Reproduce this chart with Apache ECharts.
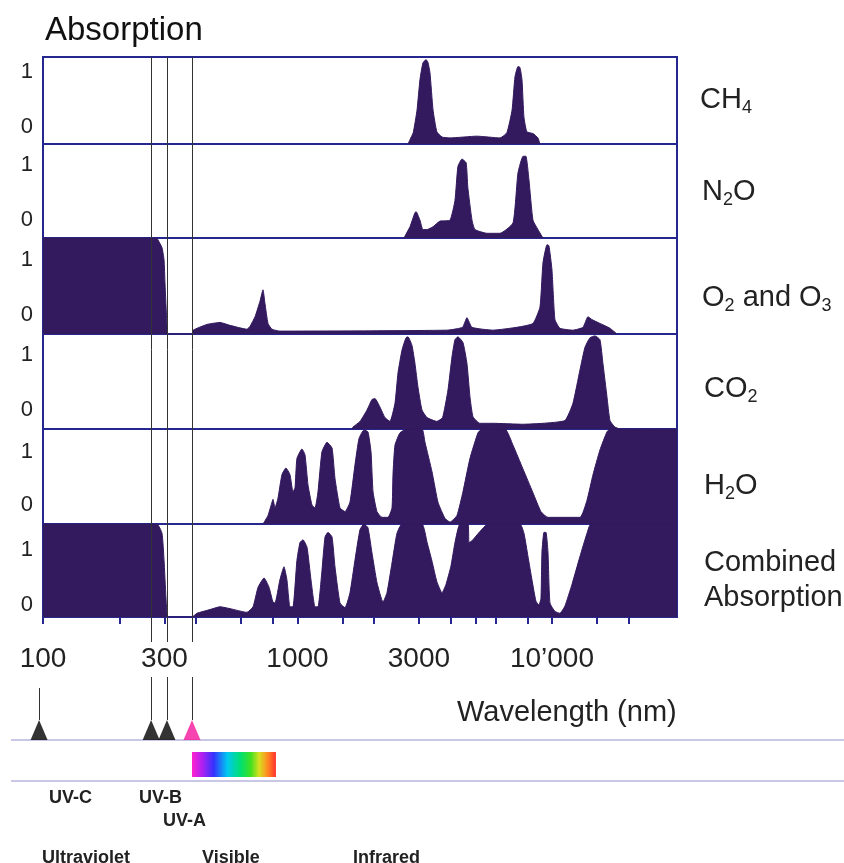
<!DOCTYPE html>
<html><head><meta charset="utf-8">
<script src="https://cdn.jsdelivr.net/npm/echarts@6/dist/echarts.min.js"></script>
<style>html,body{margin:0;padding:0;background:#fff}#c{width:844px;height:863px}</style>
</head><body><div id="c"></div>
<script>
const FONT = '"Liberation Sans", Arial, Helvetica, sans-serif';
const FILL = '#33195e';
const BORDER = '#26268f';

// ---- data: [wavelength nm, absorption (fraction of panel height)] ----
const ch4 = [[2720,0],[2767,0.05],[2850,0.13],[2950,0.39],[3029,0.74],[3110,0.93],[3200,0.97],[3255,0.94],[3316,0.82],[3410,0.39],[3530,0.14],[3700,0.08],[3974,0.07],[5070,0.09],[6247,0.07],[6650,0.13],[6970,0.39],[7155,0.77],[7350,0.89],[7486,0.88],[7625,0.74],[7760,0.31],[7970,0.14],[8420,0.12],[8810,0.07],[8970,0]];
const n2o = [[2620,0],[2767,0.12],[2895,0.27],[2925,0.28],[3029,0.19],[3110,0.09],[3230,0.09],[3410,0.12],[3630,0.18],[3974,0.19],[4158,0.40],[4270,0.76],[4430,0.84],[4600,0.80],[4670,0.54],[4850,0.19],[4982,0.09],[5560,0.05],[6247,0.05],[7030,0.16],[7350,0.69],[7700,0.87],[7900,0.87],[8120,0.62],[8420,0.19],[8810,0.09],[9220,0]];
const o2o3 = [[100,1],[280,1],[283,0.98],[293.5,0.9],[299,0.77],[301.6,0.53],[304.3,0.3],[307,0.09],[310,0],[385,0],[389,0.04],[441,0.10],[496,0.12],[543,0.09],[633,0.05],[651,0.08],[681,0.18],[712,0.34],[732,0.46],[745,0.32],[766,0.11],[794,0.05],[853,0.03],[3868,0.04],[4450,0.07],[4634,0.17],[4850,0.07],[5864,0.04],[7287,0.07],[8420,0.11],[8970,0.28],[9218,0.74],[9560,0.93],[9730,0.92],[10000,0.67],[10275,0.15],[10750,0.06],[12090,0.04],[13240,0.07],[13850,0.18],[14360,0.15],[15440,0.11],[16900,0.06],[18010,0]];
const co2 = [[1640,0],[1652,0.02],[1761,0.08],[1876,0.2],[1962,0.31],[2016,0.32],[2110,0.23],[2207,0.12],[2309,0.08],[2416,0.27],[2483,0.59],[2574,0.83],[2669,0.96],[2718,0.97],[2818,0.88],[2895,0.69],[2975,0.44],[3085,0.2],[3232,0.12],[3530,0.08],[3716,0.12],[3903,0.41],[4047,0.76],[4158,0.94],[4272,0.97],[4470,0.91],[4634,0.69],[4762,0.34],[4894,0.13],[5213,0.06],[5864,0.06],[7692,0.05],[9218,0.06],[11250,0.09],[12090,0.27],[12880,0.62],[13480,0.86],[14100,0.96],[14760,0.98],[15440,0.94],[15860,0.69],[16450,0.34],[16900,0.09],[17680,0.02],[18500,0]];
const h2o = [[732,0],[766,0.09],[794,0.23],[801,0.26],[816,0.17],[838,0.27],[869,0.52],[901,0.59],[934,0.52],[960,0.34],[978,0.38],[995,0.69],[1041,0.79],[1070,0.73],[1100,0.41],[1140,0.2],[1172,0.17],[1204,0.34],[1248,0.76],[1306,0.86],[1367,0.8],[1404,0.48],[1469,0.17],[1537,0.13],[1608,0.23],[1682,0.62],[1745,0.9],[1825,0.99],[1892,0.97],[1945,0.76],[1981,0.34],[2053,0.13],[2148,0.07],[2268,0.07],[2352,0.17],[2373,0.52],[2416,0.83],[2528,0.96],[2693,1],[3085,1],[3170,0.86],[3378,0.55],[3565,0.23],[3798,0.06],[3974,0.02],[4234,0.09],[4470,0.34],[4762,0.69],[5120,0.96],[5309,1],[6536,1],[7029,0.83],[7692,0.58],[8420,0.33],[9053,0.13],[9645,0.07],[12880,0.07],[13730,0.25],[14500,0.52],[15440,0.78],[16450,0.97],[16900,1],[31000,1]];
const combined = [[100,1],[280,1],[293.5,0.9],[299,0.61],[304,0.22],[307,0.04],[310,0],[385,0],[403,0.04],[453,0.08],[496,0.11],[543,0.09],[633,0.05],[669,0.11],[700,0.32],[739,0.42],[773,0.32],[801,0.16],[816,0.15],[853,0.4],[885,0.54],[909,0.4],[934,0.11],[960,0.11],[995,0.61],[1023,0.8],[1051,0.83],[1090,0.75],[1130,0.4],[1172,0.11],[1204,0.11],[1248,0.5],[1283,0.86],[1318,0.91],[1367,0.86],[1404,0.54],[1469,0.15],[1537,0.1],[1608,0.26],[1682,0.61],[1761,0.94],[1825,1],[1892,0.96],[1962,0.69],[2053,0.37],[2168,0.16],[2247,0.26],[2352,0.58],[2460,0.9],[2574,1],[3085,1],[3232,0.8],[3378,0.6],[3530,0.38],[3697,0.26],[3833,0.35],[4011,0.55],[4158,0.8],[4350,1],[4677,1],[4720,0.8],[4850,0.82],[5213,0.92],[5605,1],[7486,1],[7762,0.9],[8050,0.65],[8345,0.4],[8650,0.17],[8890,0.13],[9053,0.2],[9135,0.7],[9303,0.91],[9472,0.91],[9645,0.7],[9820,0.15],[10275,0.06],[10750,0.04],[11250,0.12],[11985,0.35],[12880,0.65],[13730,0.9],[14230,1],[31000,1]];

const panelData = [ch4, n2o, o2o3, co2, h2o, combined];
const xRange = [100, 31000];
const xTickValues = [100,200,300,400,600,800,1000,1500,2000,3000,4000,5000,6000,8000,10000,15000,20000];
const xLabelValues = [100,300,1000,3000,10000];
const xLabelTexts = ['100','300','1000','3000','10\u2019000'];
const yLabelTexts = ['0','1'];
const bandEdges = [96.5, 266, 307, 385];      // markers: 100 nm, UV-C|UV-B, UV-B|UV-A, UV-A|visible
const visibleRange = [385, 823];
const bandLabels = ['UV-C','UV-B','UV-A'];
const regionLabels = ['Ultraviolet','Visible','Infrared'];

// ---- layout ----
const panelTops = [57,144,238,334,429,524];
const panelHeights = [87,94,96,95,95,93];
const yLabelPos = [[0.195,0.83],[0.19,0.78],[0.2,0.77],[0.2,0.78],[0.2,0.76],[0.13,0.72]];
const L = 43, R = 167;
const lg = Math.log10;

const grids = [], xAxes = [], yAxes = [], series = [];
panelData.forEach((d, i) => {
  grids.push({left: L, right: R, top: panelTops[i], height: panelHeights[i], show: true,
    borderColor: BORDER, borderWidth: 2, backgroundColor: 'transparent'});
  const bottom = i === panelData.length - 1;
  xAxes.push({gridIndex: i, type: 'value', min: lg(xRange[0]), max: lg(xRange[1]),
    axisLine: {show: false}, splitLine: {show: false},
    axisTick: bottom ? {show: true, customValues: xTickValues.map(lg), length: 7,
      lineStyle: {color: BORDER, width: 2}} : {show: false},
    axisLabel: bottom ? {show: true, customValues: xLabelValues.map(lg), margin: 28,
      fontSize: 28, color: '#222', fontFamily: FONT,
      formatter: v => { let b = 0, bd = 1e9; xLabelValues.forEach((t, k) => { const dd = Math.abs(lg(t) - v); if (dd < bd) { bd = dd; b = k; } }); return xLabelTexts[b]; }
    } : {show: false}
  });
  const yp = yLabelPos[i];
  yAxes.push({gridIndex: i, type: 'value', min: 0, max: 1,
    axisLine: {show: false}, axisTick: {show: false}, splitLine: {show: false},
    axisLabel: {customValues: yp, margin: 10, fontSize: 22, color: '#222', fontFamily: FONT,
      formatter: v => Math.abs(v - yp[0]) < Math.abs(v - yp[1]) ? yLabelTexts[0] : yLabelTexts[1]}
  });
  series.push({type: 'line', xAxisIndex: i, yAxisIndex: i, data: d.map(p => [lg(p[0]), p[1]]),
    showSymbol: false, smooth: 0.15, silent: true,
    lineStyle: {color: FILL, width: 1}, areaStyle: {color: FILL, opacity: 1, origin: 'start'}, z: 2});
});

// overlay grid for the band markers (y in page pixels)
grids.push({left: L, right: R, top: 0, height: 863, show: false});
xAxes.push({gridIndex: 6, type: 'value', min: lg(xRange[0]), max: lg(xRange[1]), show: false});
yAxes.push({gridIndex: 6, type: 'value', min: 0, max: 863, inverse: true, show: false});

const segs = [{coords: [[lg(bandEdges[0]), 688], [lg(bandEdges[0]), 720]]}];
bandEdges.slice(1).forEach(w => {
  segs.push({coords: [[lg(w), 57], [lg(w), 642]]});
  segs.push({coords: [[lg(w), 677], [lg(w), 720]]});
});
series.push({type: 'lines', coordinateSystem: 'cartesian2d', xAxisIndex: 6, yAxisIndex: 6,
  data: segs, lineStyle: {color: '#333', width: 1, opacity: 1}, silent: true, clip: false, z: 10});
series.push({type: 'scatter', xAxisIndex: 6, yAxisIndex: 6, symbol: 'triangle', symbolSize: [17, 20],
  clip: false, silent: true, z: 11,
  data: bandEdges.map((w, i) => ({value: [lg(w), 730], itemStyle: {color: i === 3 ? '#f5179b' : '#000'}})),
  markArea: {silent: true,
    itemStyle: {color: new echarts.graphic.LinearGradient(0, 0, 1, 0, [
      {offset: 0, color: '#ff22cc'}, {offset: 0.12, color: '#b020f0'}, {offset: 0.26, color: '#3333ff'},
      {offset: 0.42, color: '#00c8f0'}, {offset: 0.58, color: '#00e070'}, {offset: 0.7, color: '#40e020'},
      {offset: 0.8, color: '#d8e020'}, {offset: 0.9, color: '#ff8a20'}, {offset: 1, color: '#ff3030'}])},
    data: [[{coord: [lg(visibleRange[0]), 752]}, {coord: [lg(visibleRange[1]), 777]}]]}
});

function txt(x, y, text, size, extra) {
  return Object.assign({type: 'text', x: x, y: y, silent: true, z: 20,
    style: Object.assign({text: text, fontSize: size, fontFamily: FONT, fill: '#222', verticalAlign: 'middle', align: 'left'}, extra || {})});
}
const rich = {n: {fontSize: 29, fontFamily: FONT, fill: '#222', lineHeight: 34},
  s: {fontSize: 18, fontFamily: FONT, fill: '#222', verticalAlign: 'bottom', lineHeight: 18}};
const graphics = [
  txt(45, 31, 'Absorption', 33, {fill: '#111'}),
  txt(700, 100, '{n|CH}{s|4}', 29, {rich: rich}),
  txt(702, 192, '{n|N}{s|2}{n|O}', 29, {rich: rich}),
  txt(702, 298, '{n|O}{s|2}{n| and O}{s|3}', 29, {rich: rich}),
  txt(704, 389, '{n|CO}{s|2}', 29, {rich: rich}),
  txt(704, 486, '{n|H}{s|2}{n|O}', 29, {rich: rich}),
  txt(704, 580, 'Combined\nAbsorption', 29, {lineHeight: 35}),
  txt(457, 713, 'Wavelength (nm)', 29),
  txt(49, 798, bandLabels[0], 18, {fontWeight: 'bold'}),
  txt(139, 798, bandLabels[1], 18, {fontWeight: 'bold'}),
  txt(163, 821, bandLabels[2], 18, {fontWeight: 'bold'}),
  txt(42, 858, regionLabels[0], 18, {fontWeight: 'bold'}),
  txt(202, 858, regionLabels[1], 18, {fontWeight: 'bold'}),
  txt(353, 858, regionLabels[2], 18, {fontWeight: 'bold'}),
  {type: 'line', shape: {x1: 11, y1: 740, x2: 844, y2: 740}, style: {stroke: '#c8c8e6', lineWidth: 2}, z: 1, silent: true},
  {type: 'line', shape: {x1: 11, y1: 781, x2: 844, y2: 781}, style: {stroke: '#c8c8e6', lineWidth: 2}, z: 1, silent: true}
];

const chart = echarts.init(document.getElementById('c'), null, {renderer: 'canvas'});
chart.setOption({
  animation: false,
  backgroundColor: '#fff',
  textStyle: {fontFamily: FONT},
  grid: grids, xAxis: xAxes, yAxis: yAxes, series: series, graphic: graphics
});
</script></body></html>
